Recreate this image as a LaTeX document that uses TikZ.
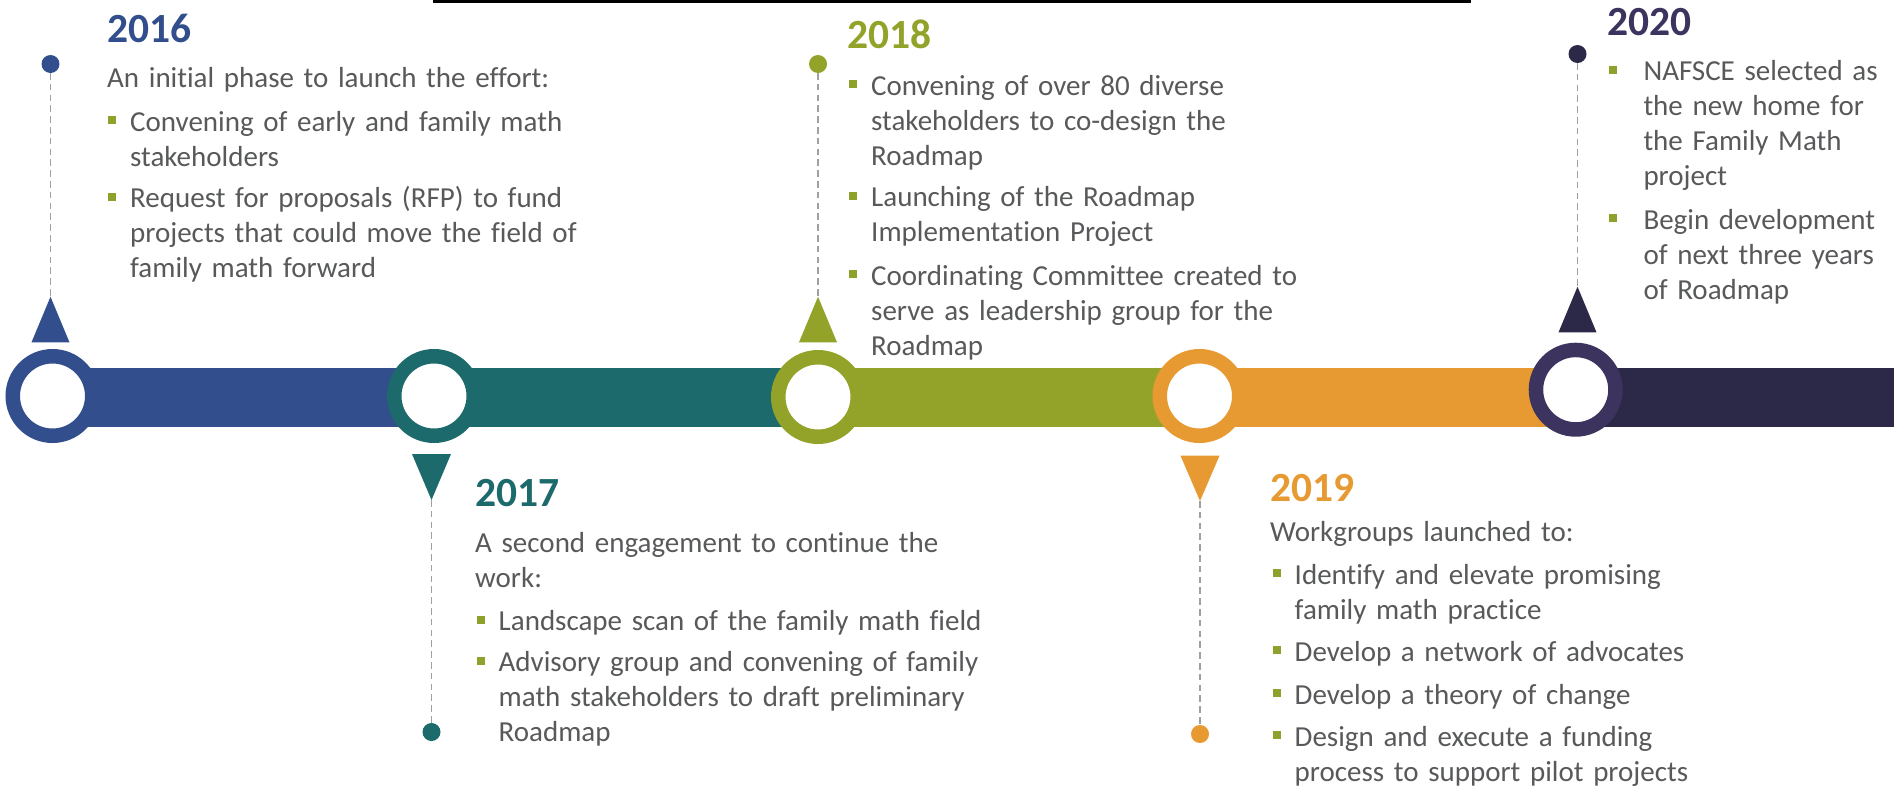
\documentclass[tikz,border=0pt]{standalone}
\usepackage{fontspec}
\setmainfont{Carlito}[Ligatures=NoCommon]
\definecolor{c16}{HTML}{334E8C}
\definecolor{c17}{HTML}{1D6A6C}
\definecolor{c18}{HTML}{93A32A}
\definecolor{c19}{HTML}{E79A32}
\definecolor{c20}{HTML}{2C2848}
\definecolor{r20}{HTML}{3C335E}
\definecolor{txt}{HTML}{58595B}
\definecolor{bul}{HTML}{8EA12A}
\definecolor{dashgray}{HTML}{A0A0A0}
\begin{document}
\begin{tikzpicture}[x=1pt,y=-1pt,
  ring/.style={circle, draw=#1, line width=14.5pt, fill=white, minimum size=79.5pt, inner sep=0pt, outer sep=0pt},
  dotnode/.style={circle, fill=#1, minimum size=18pt, inner sep=0pt, outer sep=0pt},
  dashline/.style={draw=dashgray, line width=1.4pt, dash pattern=on 6.5pt off 4.3pt},
  yearlabel/.style={font=\bfseries\fontsize{41.5}{50}\selectfont, text=#1, inner sep=0pt, anchor=base west},
  body/.style={font=\fontsize{29}{35}\selectfont, text=txt, inner sep=0pt, anchor=base west, align=left, text width=#1},
  body/.default=520pt,
  sq/.style={rectangle, fill=bul, minimum size=8pt, inner sep=0pt}
]
\useasboundingbox (0,0) rectangle (1903,793);
\fill[white] (0,0) rectangle (1903,793);

% top rule
\coordinate (tl1) at (433,1.5);
\coordinate (tl2) at (1471,1.5);
\draw[line width=3pt, black] (tl1) -- (tl2);

% bar segments
\fill[c16] (52.5,368) rectangle (434,427);
\fill[c17] (434,368) rectangle (818,427);
\fill[c18] (818,368) rectangle (1199.5,427);
\fill[c19] (1199.5,368) rectangle (1575.7,427);
\fill[c20] (1575.7,368) rectangle (1894,427);

% rings
\node[ring=c16] (R16) at (52.5,396) {};
\node[ring=c17] (R17) at (434,396) {};
\node[ring=c18] (R18) at (818,397) {};
\node[ring=c19] (R19) at (1199.5,396) {};
\node[ring=r20] (R20) at (1575.7,389.7) {};

% triangles
\fill[c16] (50.5,296.7) -- (69.5,342.3) -- (31.5,342.3) -- cycle;
\coordinate (T16) at (50.5,296.7);
\fill[c17] (412,454) -- (451,454) -- (431.5,500) -- cycle;
\coordinate (T17) at (431.5,500);
\fill[c18] (818,296.7) -- (837,342.3) -- (799,342.3) -- cycle;
\coordinate (T18) at (818,296.7);
\fill[c19] (1180.5,455.7) -- (1219.5,455.7) -- (1200,501) -- cycle;
\coordinate (T19) at (1200,501);
\fill[c20] (1577.5,286.7) -- (1596.5,332.3) -- (1558.5,332.3) -- cycle;
\coordinate (T20) at (1577.5,286.7);

% dots and dashed leaders
\node[dotnode=c16] (D16) at (50.5,64) {};
\node[dotnode=c17] (D17) at (431.5,732) {};
\node[dotnode=c18] (D18) at (818,64) {};
\node[dotnode=c19] (D19) at (1200,734) {};
\node[dotnode=c20] (D20) at (1577.5,54) {};
\draw[dashline] (D16) -- (T16);
\draw[dashline] (T17) -- (D17);
\draw[dashline] (D18) -- (T18);
\draw[dashline] (T19) -- (D19);
\draw[dashline] (D20) -- (T20);

% 2016
\node[yearlabel=c16] (Y16) at (107,42.3) {2016};
\node[body] (P16) at (107,87.7) {An initial phase to launch the effort:};
\node[sq] (S16a) at (112.3,119.9) {};
\node[body] (I16a) at (130,131) {Convening of early and family math\\stakeholders};
\node[sq] (S16b) at (112.3,196.5) {};
\node[body] (I16b) at (130,207.3) {Request for proposals (RFP) to fund\\projects that could move the field of\\family math forward};

% 2017
\node[yearlabel=c17] (Y17) at (475,506) {2017};
\node[body] (P17) at (475,552.7) {A second engagement to continue the\\work:};
\node[sq] (S17a) at (481,619.5) {};
\node[body] (I17a) at (498.5,630) {Landscape scan of the family math field};
\node[sq] (S17b) at (481,661) {};
\node[body] (I17b) at (498.5,671.7) {Advisory group and convening of family\\math stakeholders to draft preliminary\\Roadmap};

% 2018
\node[yearlabel=c18] (Y18) at (847,48.3) {2018};
\node[sq] (S18a) at (852.5,84.2) {};
\node[body] (I18a) at (871,95) {Convening of over 80 diverse\\stakeholders to co-design the\\Roadmap};
\node[sq] (S18b) at (852.5,196) {};
\node[body] (I18b) at (871,206.7) {Launching of the Roadmap\\Implementation Project};
\node[sq] (S18c) at (852.5,274.3) {};
\node[body] (I18c) at (871,285) {Coordinating Committee created to\\serve as leadership group for the\\Roadmap};

% 2019
\node[yearlabel=c19] (Y19) at (1270,501.7) {2019};
\node[body] (P19) at (1270,541.7) {Workgroups launched to:};
\node[sq] (S19a) at (1276.5,573.3) {};
\node[body] (I19a) at (1294.5,584) {Identify and elevate promising\\family math practice};
\node[sq] (S19b) at (1276.5,650.3) {};
\node[body] (I19b) at (1294.5,661) {Develop a network of advocates};
\node[sq] (S19c) at (1276.5,693.3) {};
\node[body] (I19c) at (1294.5,704) {Develop a theory of change};
\node[sq] (S19d) at (1276.5,735.3) {};
\node[body] (I19d) at (1294.5,746) {Design and execute a funding\\process to support pilot projects};

% 2020
\node[yearlabel=r20] (Y20) at (1607.3,35) {2020};
\node[sq] (S20a) at (1612.5,70) {};
\node[body] (I20a) at (1643.3,80.7) {NAFSCE selected as\\the new home for\\the Family Math\\project};
\node[sq] (S20b) at (1612.5,218.2) {};
\node[body] (I20b) at (1643.3,229.3) {Begin development\\of next three years\\of Roadmap};
\end{tikzpicture}
\end{document}
